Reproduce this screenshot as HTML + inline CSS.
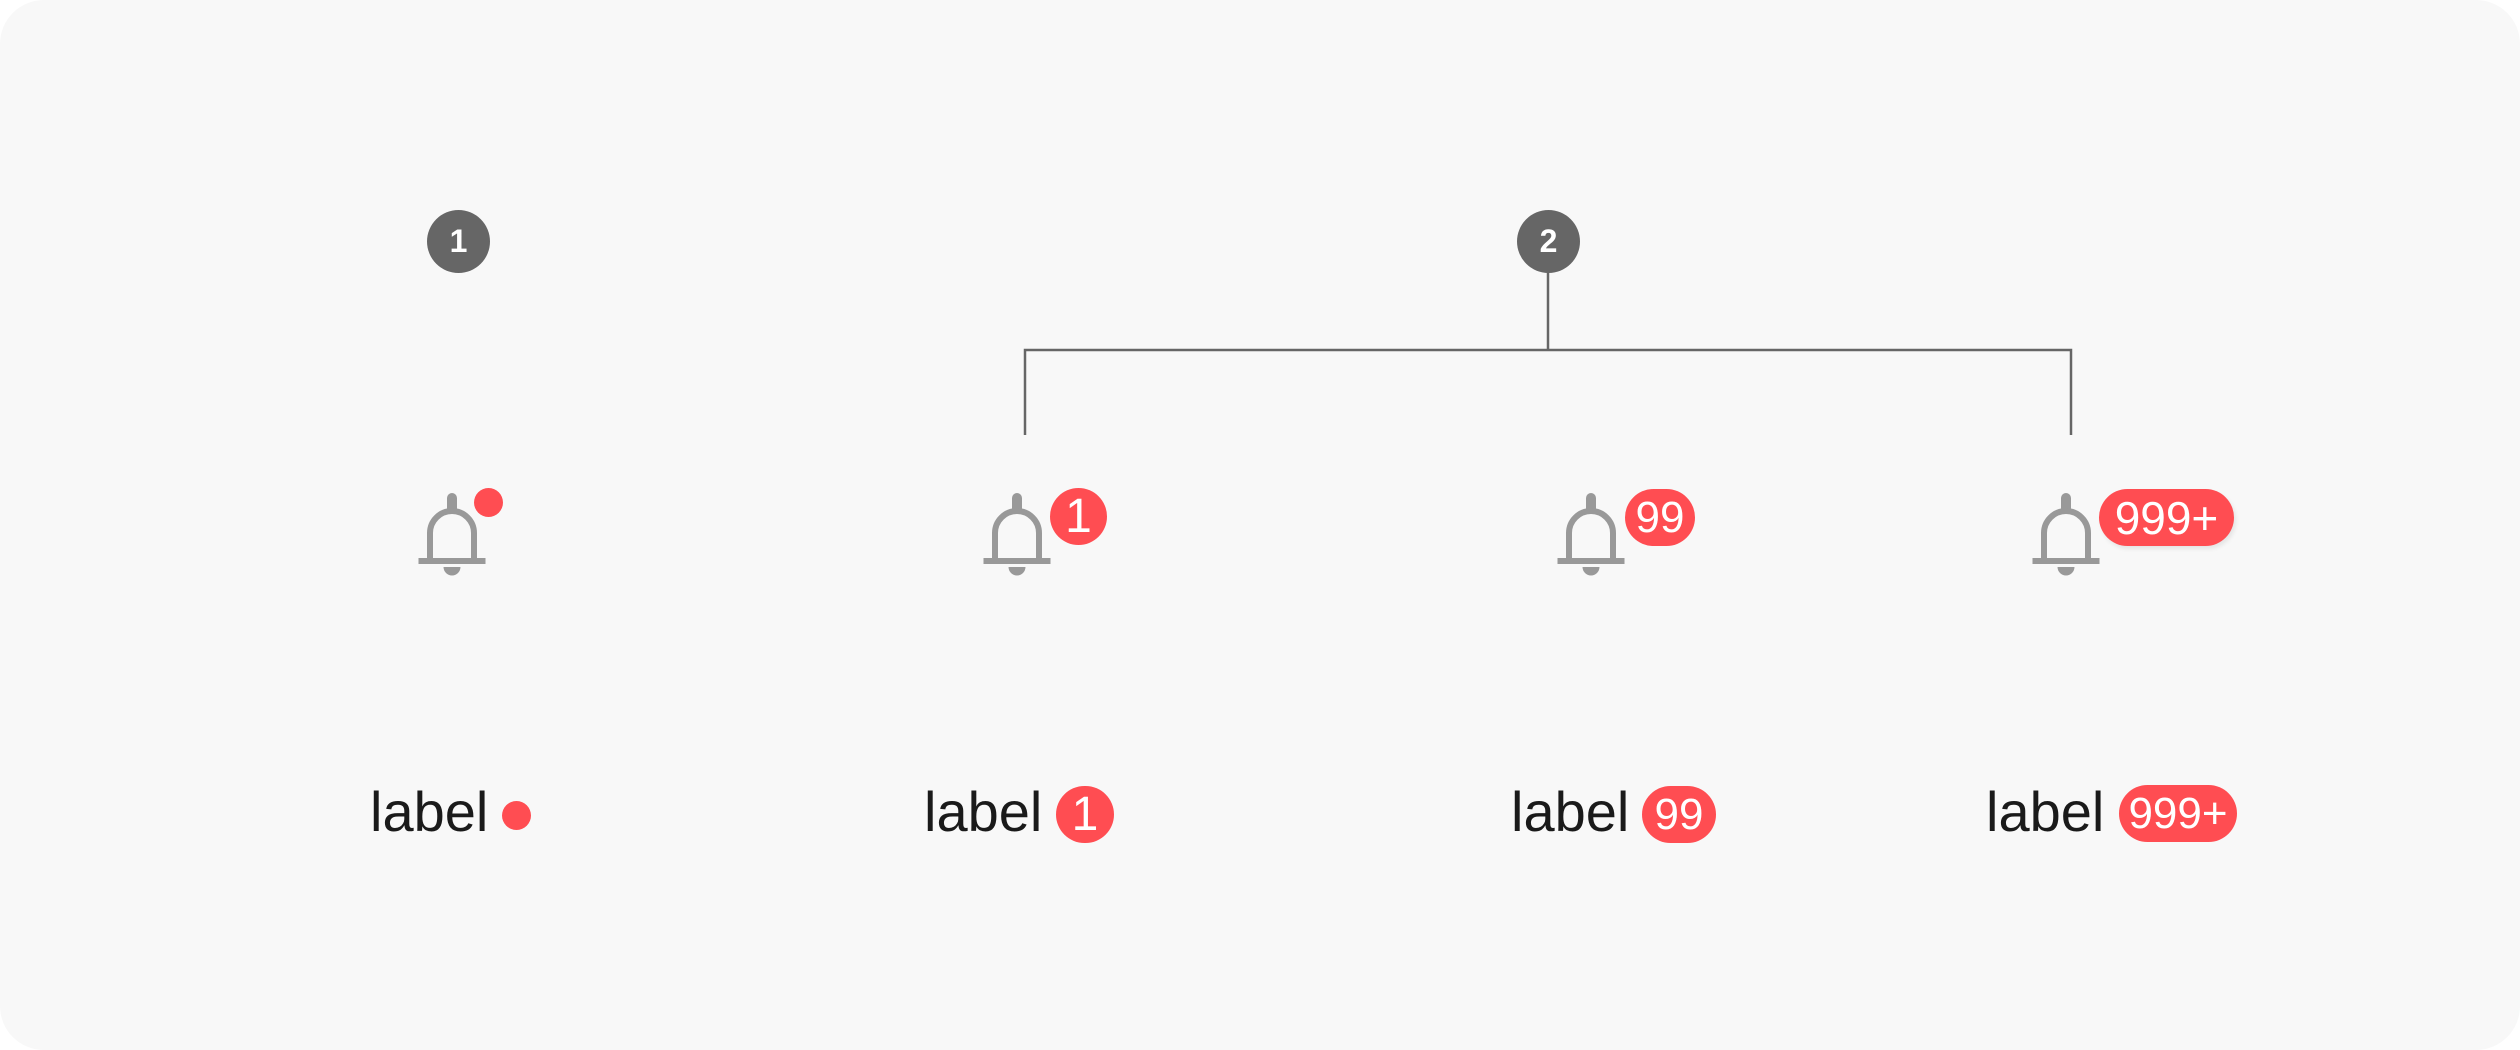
<!DOCTYPE html>
<html><head><meta charset="utf-8"><style>
html,body{margin:0;padding:0;background:#fff;}
#card{position:relative;width:2520px;height:1050px;background:#f8f8f8;border-radius:44px;overflow:hidden;font-family:"Liberation Sans",sans-serif;}
.abs{position:absolute;}
.marker{position:absolute;width:63px;height:63px;border-radius:50%;background:#666;color:#fff;font-weight:bold;font-size:32px;display:flex;align-items:center;justify-content:center;}
.badge{position:absolute;height:57px;border-radius:29px;background:#ff4d52;color:#fff;font-size:46px;display:flex;align-items:center;justify-content:center;line-height:1;}
.dot{position:absolute;width:29px;height:29px;border-radius:50%;background:#ff4d52;}
.label{position:absolute;font-size:56px;color:#1a1a1a;line-height:1;top:784px;}
</style></head><body>
<div id="card">
<div class="marker" style="left:427px;top:210px">1</div>
<div class="marker" style="left:1517px;top:210px">2</div>
<svg class="abs" style="left:0;top:0" width="2520" height="1050">
<g stroke="#666" stroke-width="2.5" fill="none">
<path d="M1548 272 V350 M1025 435 V350 H2071 V435"/>
</g>
<g fill="#999" transform="translate(452,0)">
<path d="M-5 512 V498 A5 5 0 0 1 5 498 V512 Z"/><path d="M-22 558 V533 A22 22 0 0 1 22 533 V558" fill="none" stroke="#999" stroke-width="6"/><rect x="-33.5" y="558" width="67" height="6"/><path d="M-8.5 567 A8.5 8.5 0 0 0 8.5 567 Z"/>
</g>
<g fill="#999" transform="translate(1017,0)">
<path d="M-5 512 V498 A5 5 0 0 1 5 498 V512 Z"/><path d="M-22 558 V533 A22 22 0 0 1 22 533 V558" fill="none" stroke="#999" stroke-width="6"/><rect x="-33.5" y="558" width="67" height="6"/><path d="M-8.5 567 A8.5 8.5 0 0 0 8.5 567 Z"/>
</g>
<g fill="#999" transform="translate(1591,0)">
<path d="M-5 512 V498 A5 5 0 0 1 5 498 V512 Z"/><path d="M-22 558 V533 A22 22 0 0 1 22 533 V558" fill="none" stroke="#999" stroke-width="6"/><rect x="-33.5" y="558" width="67" height="6"/><path d="M-8.5 567 A8.5 8.5 0 0 0 8.5 567 Z"/>
</g>
<g fill="#999" transform="translate(2066,0)">
<path d="M-5 512 V498 A5 5 0 0 1 5 498 V512 Z"/><path d="M-22 558 V533 A22 22 0 0 1 22 533 V558" fill="none" stroke="#999" stroke-width="6"/><rect x="-33.5" y="558" width="67" height="6"/><path d="M-8.5 567 A8.5 8.5 0 0 0 8.5 567 Z"/>
</g>
</svg>
<div class="dot" style="left:474px;top:488px"></div>
<div class="badge" style="left:1050px;top:488px;width:57px;font-size:48px">1</div>
<div class="badge" style="left:1625px;top:489px;width:70px;font-size:44px">99</div>
<div class="badge" style="left:2099px;top:489px;width:135px;box-shadow:2px 3px 4px rgba(0,0,0,0.08)">999+</div>

<div class="label" style="left:370px">label</div>
<div class="dot" style="left:502px;top:801px"></div>
<div class="label" style="left:924px">label</div>
<div class="badge" style="left:1056px;top:786px;width:58px;font-size:48px">1</div>
<div class="label" style="left:1511px">label</div>
<div class="badge" style="left:1642px;top:786px;width:74px;font-size:44px">99</div>
<div class="label" style="left:1986px">label</div>
<div class="badge" style="left:2119px;top:785px;width:118px;font-size:44px">999+</div>
</div>
</body></html>
